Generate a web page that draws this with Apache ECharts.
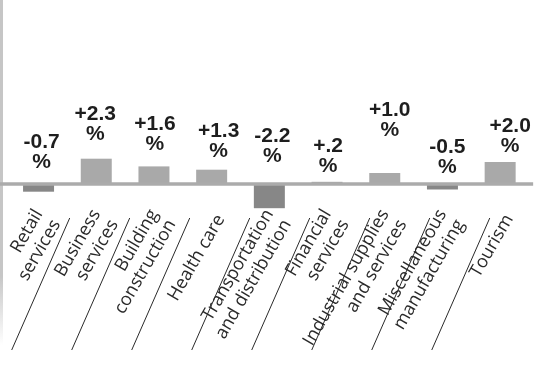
<!DOCTYPE html>
<html><head><meta charset="utf-8">
<script src="https://cdn.jsdelivr.net/npm/echarts@6/dist/echarts.min.js"></script>
<style>html,body{margin:0;padding:0;background:#fff}#c{width:550px;height:365px}</style>
</head><body><div id="c"></div>
<script>
// ---- data ----
const categories = [
  'Retail\nservices',
  'Business\nservices',
  'Building\nconstruction',
  'Health care',
  'Transportation\nand distribution',
  'Financial\nservices',
  'Industrial supplies\nand services',
  'Miscellaneous\nmanufacturing',
  'Tourism'
];
const values = [-0.7, 2.3, 1.6, 1.3, -2.2, 0.2, 1.0, -0.5, 2.0];
const valueLabels = ['-0.7\n%', '+2.3\n%', '+1.6\n%', '+1.3\n%', '-2.2\n%', '+.2\n%', '+1.0\n%', '-0.5\n%', '+2.0\n%'];

// ---- style only: label nudges [dx, lift] in px ----
const labelNudge = [[3,12],[-1,14],[1,12],[7,8],[3,18],[1,6],[5,33],[5,7],[10,6]];

const POS = '#a9a9a9', NEG = '#878787';
const chart = echarts.init(document.getElementById('c'), null, {renderer: 'canvas'});

const barData = values.map((v, i) => ({
  value: v,
  itemStyle: {color: v < 0 ? NEG : POS},
  label: {offset: [labelNudge[i][0], -labelNudge[i][1]]}
}));

const boundaries = categories.slice(1).map((c, i) => [i + 1, 0]);

chart.setOption({
  animation: false,
  backgroundColor: '#ffffff',
  graphic: [{
    type: 'rect', left: 0, top: 0, z: 0,
    shape: {x: 0, y: 0, width: 3, height: 345},
    style: {fill: new echarts.graphic.LinearGradient(0, 0, 0, 1, [
      {offset: 0, color: '#c6c6c6'}, {offset: 0.8, color: '#c6c6c6'}, {offset: 1, color: '#ffffff'}
    ])}
  }],
  grid: {left: 9.7, right: 21, top: 140, height: 88, containLabel: false, outerBoundsMode: 'none'},
  xAxis: {
    type: 'category',
    data: categories,
    boundaryGap: true,
    axisLine: {show: false, onZero: true},
    axisTick: {show: false},
    splitLine: {show: false},
    axisLabel: {
      interval: 0, rotate: 60, margin: -17,
      formatter: v => '\n' + v,
      fontFamily: 'Open Sans', fontSize: 18, lineHeight: 20.5, color: '#2a2a2a',
      hideOverlap: false
    }
  },
  yAxis: {type: 'value', min: -4, max: 4, show: false},
  series: [
    {
      type: 'bar',
      data: barData,
      barWidth: 31,
      z: 2,
      label: {
        show: true, position: 'top', distance: 0,
        formatter: p => valueLabels[p.dataIndex],
        fontFamily: 'Liberation Sans', fontWeight: 'bold', fontSize: 21, lineHeight: 20,
        color: '#1e1e1e', align: 'center'
      }
    },
    {
      type: 'custom',
      z: 3, silent: true, clip: false,
      data: [[0, 0]],
      renderItem: (params, api) => {
        const p0 = api.coord([0, 0]);
        const p8 = api.coord([categories.length - 1, 0]);
        return {type: 'line', shape: {x1: 0, y1: p0[1], x2: p8[0] + 33, y2: p0[1]},
          style: {stroke: '#ababab', lineWidth: 3.5}};
      }
    },
    {
      type: 'custom',
      z: 3, silent: true, clip: false,
      data: boundaries,
      renderItem: (params, api) => {
        const k = api.value(0);
        const band = api.size([1, 0])[0];
        const c0 = api.coord([0, 0]);
        const x0 = c0[0] - band / 2;
        const step = band * 1.04;
        const xTop = x0 + k * step;
        const xBot = x0 + (k - 1) * step + 2;
        return {type: 'line', shape: {x1: xBot, y1: c0[1] + 166, x2: xTop, y2: c0[1] + 34},
          style: {stroke: '#2a2a2a', lineWidth: 1}};
      }
    }
  ]
});
</script>
</body></html>
